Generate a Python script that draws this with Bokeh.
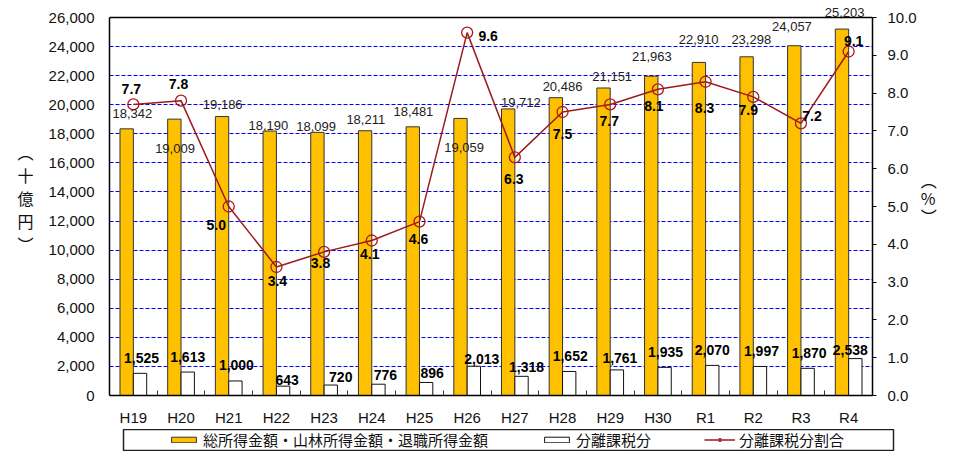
import numpy as np
from bokeh.plotting import figure
from bokeh.layouts import column, row
from bokeh.models import (ColumnDataSource, Range1d, LinearAxis, FixedTicker,
                          NumeralTickFormatter, LabelSet, Legend, LegendItem, Span)
from bokeh.core.properties import value
from bokeh.embed import file_html
from bokeh.resources import INLINE

# ---- data ----
years = ["H19", "H20", "H21", "H22", "H23", "H24", "H25", "H26",
         "H27", "H28", "H29", "H30", "R1", "R2", "R3", "R4"]
total = [18342, 19009, 19186, 18190, 18099, 18211, 18481, 19059,
         19712, 20486, 21151, 21963, 22910, 23298, 24057, 25203]
separate = [1525, 1613, 1000, 643, 720, 776, 896, 2013,
            1318, 1652, 1761, 1935, 2070, 1997, 1870, 2538]
ratio = [7.7, 7.8, 5.0, 3.4, 3.8, 4.1, 4.6, 9.6,
         6.3, 7.5, 7.7, 8.1, 8.3, 7.9, 7.2, 9.1]
left_max = 26000
right_max = 10.0
left_ticks = list(range(0, left_max + 1, 2000))
right_ticks = [float(v) for v in range(0, 11)]
legend_labels = ["総所得金額・山林所得金額・退職所得金額", "分離課税分", "分離課税分割合"]

# ---- label offsets (screen px, styling only) ----
tot_dx = [-1, -6, -6, -8, -8, -6, -6, -3, 6, 0, 2, -6, -7, -2, -9, -4]
tot_dy = [15, -29, 12, 6, 6, 11, 15, -29, 6, 11, 11.5, 20, 22.6, 17, 19, 17]
sep_dx = [1.5, 0, 1, 4, 10, 7, 6, 8, 5, 1, 3, 1, 0, 1.5, 1.5, -5]
sep_dy = [15, 15.5, 15.5, 6, 8, 9, 9, 7, 9, 15, 12, 15, 15.6, 15, 15, 9]
rat_dx = [-2, -2.5, -12.5, 1, -3.6, -2, -1, 21, -1, 0, -1, -4, -1, -5, 11, 5]
rat_dy = [15.6, 17, -18.3, -14, -11, -13, -17, -3, -21.4, -22, -17, -17, -26, -13.6, 7, 11]

n = len(years)
xc = np.arange(n) + 0.5
BW = 0.28
src = ColumnDataSource(dict(
    xc=xc, xl=xc - BW / 2, xr=xc + BW / 2,
    total=total, separate=separate, ratio=ratio,
    tot_txt=[f"{v:,}" for v in total],
    sep_txt=[f"{v:,}" for v in separate],
    rat_txt=[f"{v:.1f}" for v in ratio],
    tot_dx=tot_dx, tot_dy=tot_dy, sep_dx=sep_dx, sep_dy=sep_dy,
    rat_dx=rat_dx, rat_dy=rat_dy,
))

# layout (px)
FIG_W = 943
FRAME_L, FRAME_R = 109, 872
PLOT_TOP, PLOT_BOT = 17, 395          # where 26,000 and 0 sit
MAIN_H = 429
LEG_H = 22
head = left_max * PLOT_BOT / (PLOT_BOT - PLOT_TOP)   # head-room so labels above the top line are not clipped

FONT = "Liberation Sans"
JFONT = "Noto Sans CJK JP"
LINE_C = "#9B1B1B"
MARK_C = "#B01818"
YELLOW = "#FFC000"

p = figure(width=FIG_W, height=MAIN_H, x_range=Range1d(0, n), y_range=Range1d(0, head),
           output_backend="svg", toolbar_location=None,
           min_border_left=FRAME_L, min_border_right=FIG_W - FRAME_R,
           min_border_top=0, min_border_bottom=MAIN_H - PLOT_BOT)
p.extra_y_ranges = {"pct": Range1d(0, right_max * head / left_max)}
p.outline_line_color = None

# bars
r_tot = p.vbar(x="xl", top="total", width=BW, source=src,
               fill_color=YELLOW, line_color="#333333", line_width=1)
r_sep = p.vbar(x="xr", top="separate", width=BW, source=src,
               fill_color="white", line_color="#111111", line_width=1)
# line
r_line = p.line("xc", "ratio", source=src, y_range_name="pct",
                line_color=LINE_C, line_width=1.5)
r_pts = p.scatter("xc", "ratio", source=src, y_range_name="pct", marker="circle",
                  size=11, fill_color=None, line_color=MARK_C, line_width=1.3)

# top border line of the plot area
p.add_layout(Span(location=left_max, dimension="width", line_color="black", line_width=1.5))

# axes
yl = p.yaxis[0]
yl.bounds = (0, left_max)
yl.ticker = FixedTicker(ticks=left_ticks)
yl.formatter = NumeralTickFormatter(format="0,0")
yl.major_tick_out = 0
yl.major_tick_in = 0
yl.minor_tick_line_color = None
yl.major_label_standoff = 15
yl.axis_line_color = "black"
yl.axis_line_width = 1.5
yl.major_label_text_font = FONT
yl.major_label_text_font_size = "15px"
yl.major_label_text_color = "#111111"
yl.axis_label = "︵\n十\n億\n円\n︶"
yl.axis_label_orientation = "horizontal"
yl.axis_label_text_font = JFONT
yl.axis_label_text_font_size = "16px"
yl.axis_label_text_font_style = "normal"
yl.axis_label_text_color = "#111111"
yl.axis_label_text_line_height = 0.95
yl.axis_label_standoff = 12

yr = LinearAxis(y_range_name="pct", ticker=FixedTicker(ticks=right_ticks),
                formatter=NumeralTickFormatter(format="0.0"))
yr.bounds = (0, right_max)
yr.major_tick_out = 4
yr.major_tick_in = 0
yr.minor_tick_line_color = None
yr.major_label_standoff = 11
yr.axis_line_color = "black"
yr.axis_line_width = 1.5
yr.major_label_text_font = FONT
yr.major_label_text_font_size = "15px"
yr.major_label_text_color = "#111111"
yr.axis_label = "︵\n%\n︶"
yr.axis_label_orientation = "horizontal"
yr.axis_label_text_font = JFONT
yr.axis_label_text_font_size = "16px"
yr.axis_label_text_font_style = "normal"
yr.axis_label_text_color = "#111111"
yr.axis_label_text_line_height = 0.75
yr.axis_label_standoff = 1
p.add_layout(yr, "right")

xa = p.xaxis[0]
xa.ticker = FixedTicker(ticks=list(xc), minor_ticks=list(range(1, n)))
xa.major_label_overrides = {float(x): y for x, y in zip(xc, years)}
xa.major_tick_line_color = None
xa.major_tick_out = 0
xa.major_tick_in = 0
xa.minor_tick_in = 5
xa.minor_tick_out = 0
xa.minor_tick_line_color = "#333333"
xa.axis_line_color = "black"
xa.axis_line_width = 1.5
xa.major_label_standoff = 13
xa.major_label_text_font = FONT
xa.major_label_text_font_size = "15px"
xa.major_label_text_color = "#111111"

p.xgrid.visible = False
p.ygrid.grid_line_color = "#0000FF"
p.ygrid.grid_line_dash = "4 2"
p.ygrid.grid_line_width = 1

# data labels
p.add_layout(LabelSet(x="xc", y="total", text="tot_txt", source=src,
                      x_offset="tot_dx", y_offset="tot_dy",
                      text_align="center", text_baseline="middle",
                      text_font=value(FONT), text_font_size="13px", text_color="#222222"))
p.add_layout(LabelSet(x="xr", y="separate", text="sep_txt", source=src,
                      x_offset="sep_dx", y_offset="sep_dy",
                      text_align="center", text_baseline="middle",
                      text_font=value(FONT), text_font_size="14px",
                      text_font_style="bold", text_color="black"))
p.add_layout(LabelSet(x="xc", y="ratio", text="rat_txt", source=src, y_range_name="pct",
                      x_offset="rat_dx", y_offset="rat_dy",
                      text_align="center", text_baseline="middle",
                      text_font=value(FONT), text_font_size="14px",
                      text_font_style="bold", text_color="black"))

# ---- legend strip (separate figure so the legend box sits below the axis) ----
LEG_L, LEG_R = 123, 893
q = figure(width=FIG_W, height=LEG_H, x_range=Range1d(0, 1), y_range=Range1d(0, 1),
           output_backend="svg", toolbar_location=None,
           x_axis_type=None, y_axis_type=None,
           min_border_left=LEG_L, min_border_right=FIG_W - LEG_R,
           min_border_top=0, min_border_bottom=0)
q.grid.visible = False
q.outline_line_color = "#222222"
q.outline_line_width = 1.5
# proxy renderers (one point outside the visible range) so the legend can draw swatches
proxy = ColumnDataSource(dict(x=[-5.0], y=[0.0]))
g1 = q.vbar(x="x", top="y", width=0.1, source=proxy, fill_color=YELLOW, line_color="#333333")
g2 = q.vbar(x="x", top="y", width=0.1, source=proxy, fill_color="white", line_color="#111111")
g3 = q.line("x", "y", source=proxy, line_color=LINE_C, line_width=1.5)
g4 = q.scatter("x", "y", source=proxy, marker="circle", size=8, fill_color=None,
               line_color=MARK_C, line_width=1.3)

legend = Legend(items=[
    LegendItem(label=legend_labels[0], renderers=[g1]),
    LegendItem(label=legend_labels[1], renderers=[g2]),
    LegendItem(label=legend_labels[2], renderers=[g3, g4]),
], orientation="horizontal", location=(168 - LEG_L, 1))
legend.label_text_font = JFONT
legend.label_text_font_size = "15px"
legend.label_text_color = "#111111"
legend.glyph_width = 31
legend.glyph_height = 7
legend.label_height = 20
legend.label_standoff = 4
legend.spacing = 53
legend.padding = 0
legend.margin = 0
legend.border_line_color = None
legend.background_fill_alpha = 0
q.add_layout(legend, "center")

open("out.html", "w").write(file_html(column(p, row(q)), INLINE))
